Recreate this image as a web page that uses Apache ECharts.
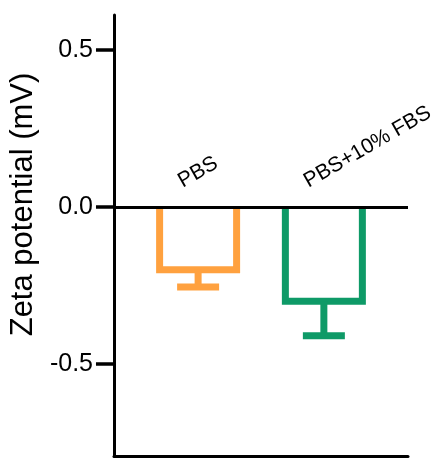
<!DOCTYPE html>
<html>
<head>
<meta charset="utf-8">
<script src="https://cdn.jsdelivr.net/npm/echarts@6/dist/echarts.min.js"></script>
<style>html,body{margin:0;padding:0;background:#fff}#c{width:441px;height:458px}</style>
</head>
<body>
<div id="c"></div>
<script>
// ---- data ----
var categories = ['PBS', 'PBS+10% FBS'];
var means = [-0.20, -0.30];
var errors = [0.055, 0.11];
var colors = ['#FFA13F', '#0E9A67'];
var yTickValues = [-0.5, 0, 0.5];
var yTickLabels = ['-0.5', '0.0', '0.5'];
var yTitle = 'Zeta potential (mV)';

// ---- styles ----
var FONT = 'Liberation Sans, Arial, sans-serif';
var BAR_W = 77, CAP_W = 42, STROKE = 7;

var seriesData = categories.map(function (c, i) { return [i, means[i], errors[i]]; });

var chart = echarts.init(document.getElementById('c'), null, {renderer: 'canvas'});
chart.setOption({
  animation: false,
  backgroundColor: '#fff',
  grid: {left: 113, right: 33, top: 15, bottom: 2, containLabel: false},
  xAxis: {
    type: 'value', min: -0.669, max: 1.669,
    axisLine: {onZero: false, lineStyle: {color: '#000', width: 3}},
    axisTick: {show: false}, axisLabel: {show: false}, splitLine: {show: false}
  },
  yAxis: {
    type: 'value', min: -0.793, max: 0.611,
    name: yTitle, nameLocation: 'middle', nameRotate: 90, nameGap: 74,
    nameTextStyle: {fontFamily: FONT, fontSize: 31, color: '#000', padding: [0, 0, 0, 62]},
    axisLine: {show: true, onZero: false, lineStyle: {color: '#000', width: 3}},
    axisTick: {show: true, length: 18, lineStyle: {color: '#000', width: 3.5}, customValues: yTickValues},
    axisLabel: {
      fontFamily: FONT, fontSize: 25, color: '#000', margin: 21, customValues: yTickValues,
      formatter: function (v) { var k = yTickValues.indexOf(v); return k >= 0 ? yTickLabels[k] : ''; }
    },
    splitLine: {show: false}
  },
  series: [{
    type: 'custom',
    data: seriesData,
    renderItem: function (params, api) {
      var i = api.value(0), m = api.value(1), e = api.value(2);
      var p0 = api.coord([i, 0]);
      var pm = api.coord([i, m]);
      var pe = api.coord([i, m - e]);
      var cx = p0[0], hw = BAR_W / 2, hc = CAP_W / 2;
      var col = colors[i];
      var ls = {stroke: col, lineWidth: STROKE, fill: null, lineJoin: 'miter', lineCap: 'butt'};
      return {
        type: 'group',
        children: [
          {type: 'polyline', shape: {points: [[cx - hw, p0[1]], [cx - hw, pm[1]], [cx + hw, pm[1]], [cx + hw, p0[1]]]}, style: ls},
          {type: 'line', shape: {x1: cx, y1: pm[1], x2: cx, y2: pe[1]}, style: ls},
          {type: 'line', shape: {x1: cx - hc, y1: pe[1], x2: cx + hc, y2: pe[1]}, style: ls},
          {type: 'text', x: cx - 13, y: p0[1] - 15, rotation: Math.PI / 6,
           style: {text: categories[i], x: 0, y: 0, align: 'left', verticalAlign: 'bottom',
                   font: '21px ' + FONT, fill: '#000'}}
        ]
      };
    },
    markLine: {
      silent: true, symbol: ['none', 'none'], label: {show: false},
      lineStyle: {color: '#000', width: 3, type: 'solid'},
      data: [{yAxis: 0}]
    }
  }]
});
</script>
</body>
</html>
